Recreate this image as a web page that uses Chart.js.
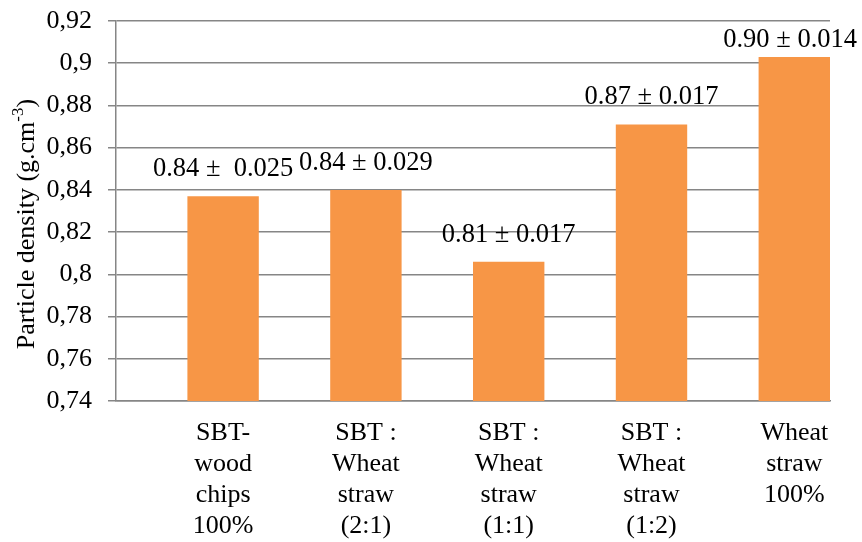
<!DOCTYPE html>
<html>
<head>
<meta charset="utf-8">
<script src="https://cdn.jsdelivr.net/npm/chart.js@4/dist/chart.umd.min.js"></script>
<style>
  body { margin: 0; background: #fff; }
  #wrap { width: 862px; height: 542px; }
</style>
</head>
<body>
<div id="wrap"><canvas id="densityChart" width="862" height="542"></canvas></div>
<script>
const categories = [
  ['SBT-', 'wood', 'chips', '100%'],
  ['SBT :', 'Wheat', 'straw', '(2:1)'],
  ['SBT :', 'Wheat', 'straw', '(1:1)'],
  ['SBT :', 'Wheat', 'straw', '(1:2)'],
  ['Wheat', 'straw', '100%']
];
const density = [0.837, 0.840, 0.806, 0.871, 0.903];
const valueLabels = ['0.84 \u00b1  0.025', '0.84 \u00b1 0.029', '0.81 \u00b1 0.017', '0.87 \u00b1 0.017', '0.90 \u00b1 0.014'];
const yTicks = [0.74, 0.76, 0.78, 0.8, 0.82, 0.84, 0.86, 0.88, 0.9, 0.92];

const serif = '"Liberation Serif", "Times New Roman", serif';
const gray = '#868686';

// labels above each bar, kept inside the canvas like Excel does
const barLabels = {
  id: 'barLabels',
  afterDatasetsDraw(chart) {
    const ctx = chart.ctx;
    ctx.save();
    ctx.font = '26.5px ' + serif;
    ctx.fillStyle = '#000';
    ctx.textAlign = 'center';
    ctx.textBaseline = 'middle';
    chart.getDatasetMeta(0).data.forEach((bar, i) => {
      const w = ctx.measureText(valueLabels[i]).width;
      const x = Math.min(bar.x, chart.width - 5 - w / 2);
      const y = Math.max(bar.y - 27, 40);
      ctx.fillText(valueLabels[i], x, y);
    });
    ctx.restore();
  }
};

// rotated y title with superscript
const yTitle = {
  id: 'yTitle',
  afterDraw(chart) {
    const ctx = chart.ctx;
    const main = 'Particle density (g.cm';
    const sup = '-3';
    const end = ')';
    ctx.save();
    ctx.translate(27, 224);
    ctx.rotate(-Math.PI / 2);
    ctx.fillStyle = '#000';
    ctx.textBaseline = 'middle';
    ctx.font = '26px ' + serif;
    const w1 = ctx.measureText(main).width;
    const w3 = ctx.measureText(end).width;
    ctx.font = '17px ' + serif;
    const w2 = ctx.measureText(sup).width;
    let x = -(w1 + w2 + w3) / 2;
    ctx.font = '26px ' + serif;
    ctx.fillText(main, x, 0);
    x += w1;
    ctx.font = '17px ' + serif;
    ctx.fillText(sup, x, -8);
    x += w2;
    ctx.font = '26px ' + serif;
    ctx.fillText(end, x, 0);
    ctx.restore();
  }
};

new Chart(document.getElementById('densityChart'), {
  type: 'bar',
  data: {
    datasets: [{
      data: density.map((v, i) => ({ x: i, y: v })),
      backgroundColor: '#F79646',
      borderWidth: 0,
      barPercentage: 0.5,
      categoryPercentage: 1
    }]
  },
  options: {
    responsive: false,
    animation: false,
    layout: { padding: { left: 0, right: 32, top: 21, bottom: 0 } },
    plugins: { legend: { display: false }, tooltip: { enabled: false } },
    scales: {
      x: {
        type: 'linear',
        offset: false,
        min: -0.75,
        max: 4.25,
        afterBuildTicks: (scale) => { scale.ticks = categories.map((_, i) => ({ value: i })); },
        afterFit: (scale) => { scale.height = 141; },
        grid: { display: false, offset: false },
        border: { display: true, color: gray, width: 1.5 },
        ticks: {
          autoSkip: false,
          maxRotation: 0,
          padding: 9,
          color: '#000',
          font: { family: serif, size: 26, lineHeight: 1.19 },
          callback: (v) => categories[v]
        }
      },
      y: {
        min: 0.74,
        max: 0.92,
        afterBuildTicks: (scale) => { scale.ticks = yTicks.map(v => ({ value: v })); },
        afterFit: (scale) => {
          scale.width = 116;
          scale.paddingTop = 10;
        },
        grid: { color: gray, lineWidth: 1.5, tickLength: 8, drawTicks: true },
        border: { display: true, color: gray, width: 1.5 },
        ticks: {
          padding: 16,
          color: '#000',
          font: { family: serif, size: 26 },
          callback: (v) => String(Number(v.toFixed(2))).replace('.', ',')
        }
      }
    }
  },
  plugins: [barLabels, yTitle]
});
</script>
</body>
</html>
